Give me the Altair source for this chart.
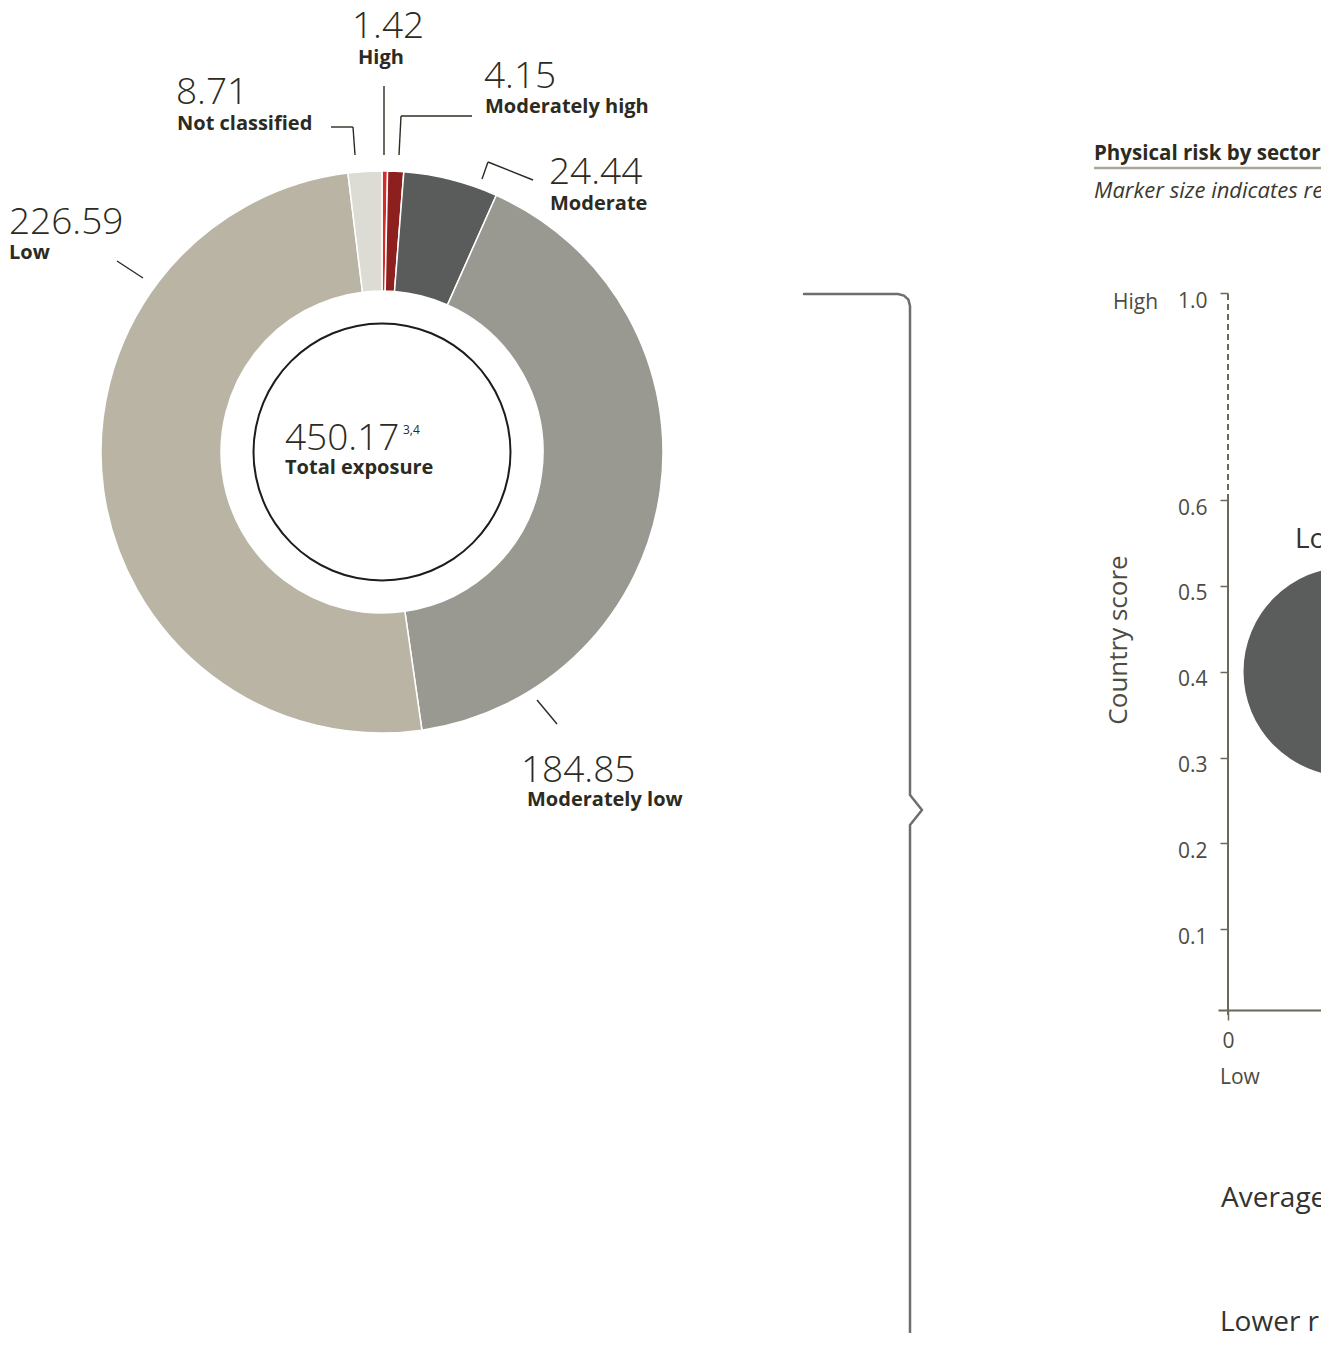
import math
import altair as alt
import pandas as pd

# ------------------------------------------------------------------ data
categories = ["High", "Moderately high", "Moderate", "Moderately low", "Low", "Not classified"]
exposure = [1.42, 4.15, 24.44, 184.85, 226.59, 8.71]
value_labels = ["1.42", "4.15", "24.44", "184.85", "226.59", "8.71"]
total_label = "450.17"
total_note = "3,4"
total_caption = "Total exposure"

sector_names = ["Lombard loans"]
sector_score = [0.2]
country_score = [0.4]

y_tick_values = [0.1, 0.2, 0.3, 0.4, 0.5, 0.6, 1.0]
x_tick_values = [0]

# ------------------------------------------------------------------ layout / style
OFF = 8              # page margin
W, H = 1313, 1325    # whole drawing (right edge clips like the reference)
FONT = "Open Sans"
INK = "#2c2b22"
AX = "#6b6858"
LBL = "#4d4b42"
slice_colors = ["#d52d2a", "#8e1f1f", "#5a5c5b", "#999991", "#b9b4a4", "#dcdcd4"]

CX, CY = 382 - OFF, 452 - OFF     # donut centre
R_OUT, R_IN = 281, 161
BUBBLE_D = 209                    # bubble diameter in px (vega circle size = d^2)


def P(v):
    return v - OFF


# donut ---------------------------------------------------------------
donut_df = pd.DataFrame({"category": categories, "exposure": exposure,
                         "order": list(range(len(categories)))})
donut = alt.Chart(donut_df).mark_arc(
    radius=R_OUT, radius2=R_IN, stroke="white", strokeWidth=1.5
).encode(
    theta=alt.Theta("exposure:Q", stack=True),
    order=alt.Order("order:Q"),
    color=alt.Color("category:N", scale=alt.Scale(domain=categories, range=slice_colors), legend=None),
    x=alt.value(CX), y=alt.value(CY),
)

ring = alt.Chart(alt.Data(values=[{"a": 1}])).mark_arc(
    theta=0, theta2=2 * math.pi, radius=129.5, radius2=127.5, color="#1d1c18"
).encode(x=alt.value(CX), y=alt.value(CY))

# label positions (page px: left x, baseline y)
num_pos = {"High": (352, 38), "Moderately high": (484, 88), "Moderate": (549, 184),
           "Moderately low": (521, 782), "Low": (9, 234), "Not classified": (176, 104)}
cat_pos = {"High": (358, 64), "Moderately high": (485, 113), "Moderate": (550, 210),
           "Moderately low": (527, 806), "Low": (9, 259), "Not classified": (177, 130)}

num_df = pd.DataFrame({
    "t": value_labels + [total_label],
    "x": [P(num_pos[c][0]) for c in categories] + [P(285)],
    "y": [P(num_pos[c][1]) for c in categories] + [P(450)],
})
cat_df = pd.DataFrame({
    "t": categories + [total_caption],
    "x": [P(cat_pos[c][0]) for c in categories] + [P(285)],
    "y": [P(cat_pos[c][1]) for c in categories] + [P(474)],
})

PX = dict(scale=None, axis=None)

num_text = alt.Chart(num_df).mark_text(
    align="left", baseline="alphabetic", font=FONT, fontSize=37, fontWeight=300, color=INK
).encode(x=alt.X("x:Q", **PX), y=alt.Y("y:Q", **PX), text="t:N")

cat_text = alt.Chart(cat_df).mark_text(
    align="left", baseline="alphabetic", font=FONT, fontSize=20, fontWeight="bold", color=INK
).encode(x=alt.X("x:Q", **PX), y=alt.Y("y:Q", **PX), text="t:N")

note_text = alt.Chart(alt.Data(values=[{"t": total_note}])).mark_text(
    align="left", baseline="alphabetic", font=FONT, fontSize=12, color=INK
).encode(x=alt.value(P(403)), y=alt.value(P(434)), text="t:N")

# leader lines (page px)
seg = [
    (384, 86, 384, 155),
    (331, 127, 353, 127), (353, 127, 355, 155),
    (399, 155, 401, 116), (401, 116, 472, 116),
    (482, 179, 488, 162), (488, 162, 533, 180),
    (117, 261, 143, 278),
    (537, 700, 557, 724),
]
seg_df = pd.DataFrame({"x": [P(s[0]) for s in seg], "y": [P(s[1]) for s in seg],
                       "x2": [P(s[2]) for s in seg], "y2": [P(s[3]) for s in seg]})
leaders = alt.Chart(seg_df).mark_rule(color=INK, strokeWidth=1.4).encode(
    x=alt.X("x:Q", **PX), y=alt.Y("y:Q", **PX), x2="x2:Q", y2="y2:Q")

# bracket
bx = [804, 898, 904, 908.4, 910, 910, 922, 910, 910]
by = [294, 294, 295.6, 299.6, 306, 795, 810, 825, 1360]
br_df = pd.DataFrame({"x": [P(v) for v in bx], "y": [P(v) for v in by], "i": list(range(len(bx)))})
bracket = alt.Chart(br_df).mark_line(
    color="#6e6e6e", strokeWidth=2.5, strokeJoin="round", strokeCap="round"
).encode(x=alt.X("x:Q", **PX), y=alt.Y("y:Q", **PX), order="i:Q")

# scatter -------------------------------------------------------------
xs = alt.Scale(domain=[-1 / 60, 1], range=[P(1218), P(1828)], nice=False, zero=False)
ys = alt.Scale(domain=[0, 0.6, 1.0], range=[P(1015), P(500), P(293)], nice=False, zero=False)

x_axis = alt.Axis(values=x_tick_values, format="d", offset=-(H - P(1010)), grid=False,
                  domain=True, domainColor=AX, domainWidth=2, tickColor=AX, tickWidth=1.5,
                  tickSize=10, labelFont=FONT, labelFontSize=21, labelColor=LBL,
                  labelPadding=10, title=None)
y_axis = alt.Axis(values=y_tick_values, format=".1f", offset=-P(1228), grid=False,
                  domain=False, tickColor=AX, tickWidth=1.5, tickSize=8,
                  labelFont=FONT, labelFontSize=21, labelColor=LBL, labelPadding=13,
                  labelOffset=8, title=None)

sc_df = pd.DataFrame({"sector": sector_names, "sx": sector_score, "cy": country_score})

points = alt.Chart(sc_df).mark_point(
    shape="circle", filled=True, size=BUBBLE_D ** 2, color="#5b5d5c", opacity=1, clip=True
).encode(x=alt.X("sx:Q", scale=xs, axis=x_axis), y=alt.Y("cy:Q", scale=ys, axis=y_axis))

point_labels = alt.Chart(sc_df).mark_text(
    align="left", baseline="alphabetic", dx=-53, dy=-124, font=FONT, fontSize=28,
    color="#333330", clip=True
).encode(x=alt.X("sx:Q", scale=xs, axis=x_axis), y=alt.Y("cy:Q", scale=ys, axis=y_axis),
         text="sector:N")

yline_df = pd.DataFrame({"x": [0, 0], "y": [0, 0.6], "y2": [0.6, 1.0], "kind": ["solid", "dash"]})
y_solid = alt.Chart(yline_df).transform_filter("datum.kind == 'solid'").mark_rule(
    color=AX, strokeWidth=2).encode(
    x=alt.X("x:Q", scale=xs, axis=x_axis), y=alt.Y("y:Q", scale=ys, axis=y_axis), y2="y2:Q")
y_dash = alt.Chart(yline_df).transform_filter("datum.kind == 'dash'").mark_rule(
    color=AX, strokeWidth=2, strokeDash=[6, 4]).encode(
    x=alt.X("x:Q", scale=xs, axis=x_axis), y=alt.Y("y:Q", scale=ys, axis=y_axis), y2="y2:Q")


def ptext(txt, x, y, size, weight="normal", style="normal", color=LBL, angle=0, align="left"):
    return alt.Chart(alt.Data(values=[{"t": txt}])).mark_text(
        align=align, baseline="alphabetic", font=FONT, fontSize=size, fontWeight=weight,
        fontStyle=style, color=color, angle=angle, clip=True
    ).encode(x=alt.value(P(x)), y=alt.value(P(y)), text="t:N")


title_t = ptext("Physical risk by sector", 1094, 160, 20.5, weight="bold", color=INK)
subtitle_t = ptext("Marker size indicates relative exposure", 1094, 198, 22, style="italic", color="#3a392f")
underline = alt.Chart(alt.Data(values=[{"a": 1}])).mark_rule(color="#aaa79a", strokeWidth=2.5).encode(
    x=alt.value(P(1094)), x2=alt.value(W + 20), y=alt.value(P(168)))
high_t = ptext("High", 1113, 309, 21)
low_t = ptext("Low", 1220, 1084, 21)
country_t = ptext("Country score", 1127, 640, 26, angle=270, align="center")
avg_t = ptext("Average", 1221, 1207, 28, color="#333330")
lower_t = ptext("Lower risk", 1220, 1331, 28, color="#333330")

chart = alt.layer(
    donut, ring, num_text, cat_text, note_text, leaders, bracket,
    y_solid, y_dash, points, point_labels,
    title_t, subtitle_t, underline, high_t, low_t, country_t, avg_t, lower_t,
).properties(
    width=W, height=H, autosize=alt.AutoSizeParams(type="none"), padding=0, background="white"
).configure_view(strokeOpacity=0)

chart.save("out.html", embed_options={"renderer": "svg", "actions": False})
